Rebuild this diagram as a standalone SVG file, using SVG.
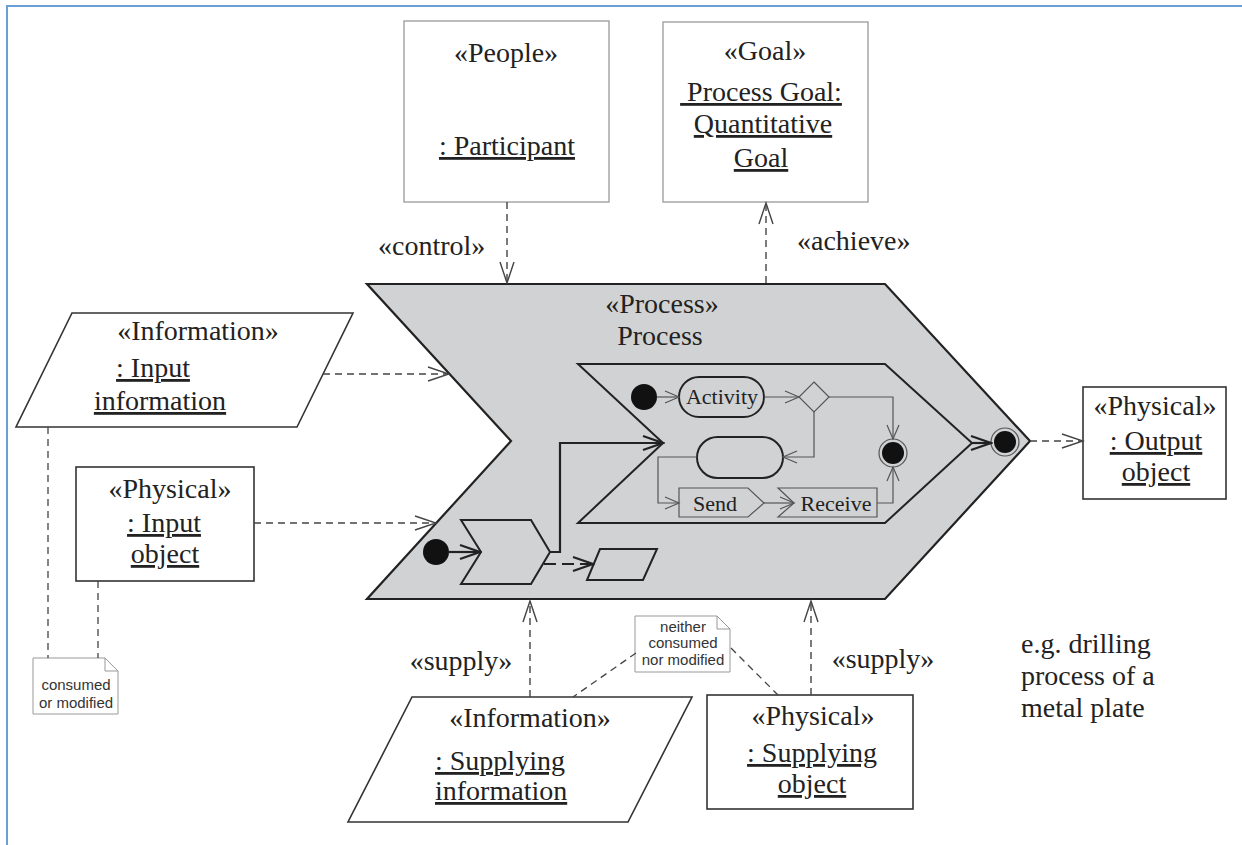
<svg xmlns="http://www.w3.org/2000/svg" width="1242" height="845" viewBox="0 0 1242 845">
<style>
.t{font-family:"Liberation Serif","Times New Roman",serif;font-size:28px;fill:#222}
.ti{font-family:"Liberation Serif","Times New Roman",serif;font-size:22px;fill:#222}
.u{text-decoration:underline}
.m{text-anchor:middle}
.n{font-family:"Liberation Sans",Arial,sans-serif;font-size:15px;fill:#333;text-anchor:middle}
.box{fill:#fff;stroke:#333;stroke-width:1.6}
.gbox{fill:#fff;stroke:#999;stroke-width:1.3}
.note{fill:#fff;stroke:#999;stroke-width:1}
.dep{fill:none;stroke:#444;stroke-width:1.4;stroke-dasharray:7 5}
.dl{fill:none;stroke:#444;stroke-width:1.3;stroke-dasharray:7 5}
.thick{fill:none;stroke:#222;stroke-width:2.2}
.thin{fill:none;stroke:#555;stroke-width:1.2}
.proc{fill:#d1d2d4;stroke:#222;stroke-width:2.2}
.sub{fill:#d1d2d4;stroke:#222;stroke-width:2}
.dot{fill:#111}
</style>
<defs>
<marker id="aDep" markerUnits="userSpaceOnUse" markerWidth="24" markerHeight="18" viewBox="-22 -9 24 18" refX="0" refY="0" orient="auto">
<path d="M-21,-7 L0,0 L-21,7" fill="none" stroke="#444" stroke-width="1.4"/>
</marker>
<marker id="aThick" markerUnits="userSpaceOnUse" markerWidth="24" markerHeight="18" viewBox="-22 -9 24 18" refX="0" refY="0" orient="auto">
<path d="M-20,-7 L0,0 L-20,7" fill="none" stroke="#222" stroke-width="2.2"/>
</marker>
<marker id="aThin" markerUnits="userSpaceOnUse" markerWidth="18" markerHeight="16" viewBox="-16 -8 18 16" refX="0" refY="0" orient="auto">
<path d="M-14,-6 L0,0 L-14,6" fill="none" stroke="#555" stroke-width="1.2"/>
</marker>
</defs>
<rect width="1242" height="845" fill="#fff"/>
<g id="frame" fill="none" stroke="#6a9fd8" stroke-width="2">
<line x1="6" y1="6" x2="1242" y2="6"/>
<line x1="7" y1="6" x2="7" y2="845"/>
</g>

<g id="process">
<polygon class="proc" points="367,284 885,284 1030,441 885,599 367,599 511,441"/>
<text class="t m" x="662" y="313">«Process»</text>
<text class="t m" x="660" y="345">Process</text>
<polygon class="sub" points="578,364 885,364 972,443 885,523 578,523 663,443"/>
<circle class="dot" cx="436" cy="552" r="13"/>
<polygon class="sub" stroke-width="1.8" points="461,520 531,520 550,552 531,584 461,584 481,552"/>
<polygon class="sub" stroke-width="1.8" points="600,549 657,549 643,580 587,580"/>
<circle class="dot" cx="644" cy="397" r="13"/>
<rect x="679" y="377" width="85" height="40" rx="20" fill="#d1d2d4" stroke="#222" stroke-width="2"/>
<text class="ti m" x="722" y="404">Activity</text>
<polygon points="814,382 829,397 814,412 799,397" fill="#d1d2d4" stroke="#555" stroke-width="1.2"/>
<rect x="697" y="437" width="86" height="41" rx="20.5" fill="#d1d2d4" stroke="#222" stroke-width="2"/>
<polygon points="679,488 748,488 764,503 748,517 679,517" fill="#d1d2d4" stroke="#555" stroke-width="1.2"/>
<text class="ti m" x="715" y="511">Send</text>
<polygon points="778,488 877,488 877,517 778,517 794,503" fill="#d1d2d4" stroke="#555" stroke-width="1.2"/>
<text class="ti m" x="836" y="511">Receive</text>
<circle cx="893" cy="453" r="14" fill="#d1d2d4" stroke="#555" stroke-width="1.2"/>
<circle class="dot" cx="893" cy="453" r="11"/>
<circle cx="1005" cy="442" r="14" fill="#d1d2d4" stroke="#555" stroke-width="1.2"/>
<circle class="dot" cx="1005" cy="442" r="11"/>
</g>

<g id="people">
<rect class="gbox" x="404" y="21" width="205" height="181"/>
<text class="t m" x="506" y="62">«People»</text>
<text class="t m u" x="507" y="155">: Participant</text>
</g>
<g id="goal">
<rect class="gbox" x="663" y="22" width="205" height="180"/>
<text class="t m" x="765" y="60">«Goal»</text>
<text class="t m u" x="761" y="101">&#160;Process Goal:</text>
<text class="t m u" x="763" y="133">Quantitative</text>
<text class="t m u" x="761" y="167">Goal</text>
</g>
<g id="input-information">
<polygon class="box" points="72,313 353,313 297,427 16,427"/>
<text class="t m" x="198" y="340">«Information»</text>
<text class="t m u" x="153" y="377">: Input</text>
<text class="t m u" x="160" y="410">information</text>
</g>
<g id="input-object">
<rect class="box" x="76" y="467" width="178" height="114"/>
<text class="t m" x="170" y="498">«Physical»</text>
<text class="t m u" x="164" y="532">: Input</text>
<text class="t m u" x="165" y="563">object</text>
</g>
<g id="output-object">
<rect class="box" x="1083" y="387" width="143" height="112"/>
<text class="t m" x="1155" y="415">«Physical»</text>
<text class="t m u" x="1156" y="450">: Output</text>
<text class="t m u" x="1156" y="481">object</text>
</g>
<g id="supplying-information">
<polygon class="box" points="412,697 692,697 628,822 348,822"/>
<text class="t m" x="530" y="727">«Information»</text>
<text class="t u" x="435" y="770">: Supplying</text>
<text class="t u" x="435" y="800">information</text>
</g>
<g id="supplying-object">
<rect class="box" x="707" y="695" width="206" height="114"/>
<text class="t m" x="813" y="725">«Physical»</text>
<text class="t m u" x="812" y="762">: Supplying</text>
<text class="t m u" x="812" y="793">object</text>
</g>
<g id="note-consumed">
<path class="note" d="M33,658 L105,658 L118,671 L118,714 L33,714 Z M105,658 L105,671 L118,671"/>
<text class="n" x="76" y="690">consumed</text>
<text class="n" x="76" y="708">or modified</text>
</g>
<g id="note-neither">
<path class="note" d="M635,616 L717,616 L730,629 L730,672 L635,672 Z M717,616 L717,629 L730,629"/>
<text class="n" x="683" y="632">neither</text>
<text class="n" x="683" y="648">consumed</text>
<text class="n" x="683" y="665">nor modified</text>
</g>
<g id="labels">
<text class="t" x="378" y="255">«control»</text>
<text class="t" x="797" y="250">«achieve»</text>
<text class="t m" x="461" y="670">«supply»</text>
<text class="t m" x="883" y="668">«supply»</text>
<text class="t" x="1021" y="653">e.g. drilling</text>
<text class="t" x="1021" y="685">process of a</text>
<text class="t" x="1021" y="717">metal plate</text>
</g>

<g id="connectors">
<line class="dep" x1="507" y1="202" x2="507" y2="283" marker-end="url(#aDep)"/>
<line class="dep" x1="766" y1="283" x2="766" y2="203" marker-end="url(#aDep)"/>
<line class="dep" x1="323" y1="374" x2="449" y2="374" marker-end="url(#aDep)"/>
<line class="dep" x1="254" y1="523" x2="436" y2="523" marker-end="url(#aDep)"/>
<line class="dep" x1="1030" y1="441" x2="1083" y2="441" marker-end="url(#aDep)"/>
<line class="dep" x1="530" y1="697" x2="530" y2="601" marker-end="url(#aDep)"/>
<line class="dep" x1="811" y1="695" x2="811" y2="601" marker-end="url(#aDep)"/>
<line class="dl" x1="48" y1="427" x2="48" y2="658"/>
<line class="dl" x1="98" y1="581" x2="98" y2="658"/>
<line class="dl" x1="636" y1="653" x2="573" y2="697"/>
<line class="dl" x1="731" y1="648" x2="778" y2="695"/>
<line class="thick" x1="449" y1="552" x2="480" y2="552" marker-end="url(#aThick)"/>
<polyline class="thick" points="550,552 560,552 560,443 663,443" marker-end="url(#aThick)"/>
<line class="thick" x1="544" y1="564" x2="593" y2="564" stroke-dasharray="12 6" marker-end="url(#aThick)"/>
<line class="thick" x1="972" y1="443" x2="991" y2="443" marker-end="url(#aThick)"/>
<line class="thin" x1="657" y1="397" x2="679" y2="397" marker-end="url(#aThin)"/>
<line class="thin" x1="764" y1="397" x2="799" y2="397" marker-end="url(#aThin)"/>
<polyline class="thin" points="829,397 893,397 893,439" marker-end="url(#aThin)"/>
<polyline class="thin" points="814,412 814,457 783,457" marker-end="url(#aThin)"/>
<polyline class="thin" points="697,457 658,457 658,503 679,503" marker-end="url(#aThin)"/>
<line class="thin" x1="764" y1="503" x2="794" y2="503" marker-end="url(#aThin)"/>
<polyline class="thin" points="877,503 893,503 893,467" marker-end="url(#aThin)"/>
</g>
</svg>
